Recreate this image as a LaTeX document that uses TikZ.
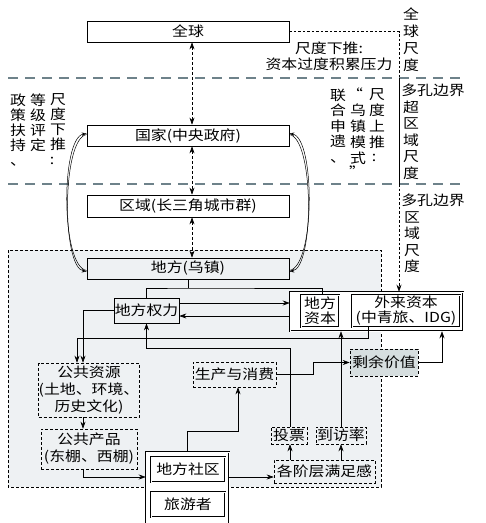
\documentclass[tikz,border=0pt]{standalone}
\usepackage{fontspec}
\newfontfamily\cjk[FakeStretch=1.15]{Noto Sans CJK SC}
\usetikzlibrary{arrows.meta,calc}
\definecolor{regfill}{RGB}{238,241,243}
\definecolor{sepgray}{RGB}{110,130,138}
\definecolor{syfill}{RGB}{214,222,223}
\tikzset{
  every node/.style={font=\cjk\fontsize{13.8}{16}\selectfont, inner sep=0pt, align=center},
  sbox/.style={draw, line width=0.7pt},
  dbox/.style={draw, line width=0.6pt, dash pattern=on 3pt off 2pt},
  dblbox/.style={draw, line width=0.5pt, double, double distance=1pt},
  arr/.style={line width=0.6pt, -{Stealth[length=7pt,width=5pt]}},
  darr/.style={line width=0.6pt, dash pattern=on 3pt off 2pt, {Stealth[length=7pt,width=5pt]}-{Stealth[length=7pt,width=5pt]}},
  dotln/.style={line width=0.6pt, dash pattern=on 2.5pt off 2pt},
  sepln/.style={line width=2.6pt, sepgray, dash pattern=on 10pt off 7pt},
  cv/.style={line width=0.5pt, -{Stealth[open,length=5pt,width=3.5pt]}},
  vt/.style={font=\cjk\fontsize{13.8}{#1}\selectfont},
  vt/.default=15
}
\begin{document}
\begin{tikzpicture}[x=1pt,y=-1pt]
\useasboundingbox (0,0) rectangle (486,523);
% local region background
\fill[regfill] (8,250) rectangle (381,487);
\draw[line width=0.5pt, dash pattern=on 3pt off 2pt] (8,250) rectangle (381,487);
% scale separators
\draw[sepln] (8,78) -- (462,78);
\draw[sepln] (8,184) -- (462,184);

% scale boxes
\node[sbox, fill=white, minimum width=202pt, minimum height=21pt] (qq) at (188,31.5) {全球};
\node[sbox, fill=white, minimum width=202pt, minimum height=21pt] (gj) at (188,135.5) {国家(中央政府)};
\node[sbox, fill=white, minimum width=202pt, minimum height=22pt] (qy) at (188,206) {区域(长三角城市群)};
\node[sbox, minimum width=202pt, minimum height=21pt] (df) at (188,268.5) {地方(乌镇)};

% local elements
\node[sbox, minimum width=65pt, minimum height=25pt] (qlz) at (146.5,310.5) {地方权力};
\node[dblbox, fill=white, minimum width=173pt, minimum height=39pt] (ob) at (376.5,311.5) {};
\node[dblbox, minimum width=38pt, minimum height=32pt, font=\cjk\fontsize{13.8}{15}\selectfont] (dfzb) at (320,311) {地方\\资本};
\node[dblbox, minimum width=108pt, minimum height=32pt, font=\cjk\fontsize{13.8}{15}\selectfont] (wlzb) at (406,311) {外来资本\\(中青旅、IDG)};
\node[dbox, minimum width=96pt, minimum height=54pt, font=\cjk\fontsize{13.8}{17}\selectfont] (ggzy) at (89,390) {公共资源\\(土地、环境、\\历史文化)};
\node[dbox, minimum width=96pt, minimum height=40pt, font=\cjk\fontsize{13.8}{17}\selectfont] (ggcp) at (89,449) {公共产品\\(东棚、西棚)};
\node[dbox, minimum width=83pt, minimum height=25pt] (sc) at (234.5,374.5) {生产与消费};
\node[dbox, fill=syfill, minimum width=68pt, minimum height=27pt] (syjz) at (384,362.5) {剩余价值};
\node[dbox, minimum width=36pt, minimum height=17pt] (tp) at (289,435.5) {投票};
\node[dbox, minimum width=50pt, minimum height=17pt] (dfl) at (341,435.5) {到访率};
\node[dbox, minimum width=101pt, minimum height=23pt] (mzg) at (324.5,471.5) {各阶层满足感};
\node[dblbox, fill=white, minimum width=83pt, minimum height=80pt] (oc) at (187.5,492) {};
\node[dblbox, minimum width=74pt, minimum height=25pt] (sq) at (188,469.5) {地方社区};
\node[dblbox, minimum width=74pt, minimum height=25pt] (yk) at (188,504.5) {旅游者};

% texts
\node (t1) at (329,56) [font=\cjk\fontsize{13.8}{16}\selectfont] {尺度下推:\\资本过度积累压力};
\node[vt=17] (t2) at (411,39.5) {全\\球\\尺\\度};
\node (t3) at (433,90) {多孔边界};
\node[vt=16.5] (t4) at (411,140) {超\\区\\域\\尺\\度};
\node (t5) at (433,200) {多孔边界};
\node[vt=16.5] (t6) at (412,242) {区\\域\\尺\\度};
% left vertical text
\node[vt] (l1) at (18,130) {政\\策\\扶\\持\\、};
\node[vt] (l2) at (38,122.5) {等\\级\\评\\定};
\node[vt] (l3) at (58,122.5) {尺\\度\\下\\推};
\node (l4) at (52,161) {:};
% right vertical text
\node[vt=15.5] (r1) at (338,126) {联\\合\\申\\遗\\、};
\node (r2a) at (355,94) {“};
\node[vt=16] (r2) at (358,134) {乌\\镇\\模\\式};
\node (r2b) at (357,172) {”};
\node[vt=16] (r3) at (377,119) {尺\\度\\上\\推};
\node (r4) at (374,158) {:};

% coordinates
\coordinate (tj) at (188,288);
\coordinate (c1) at (77,338);
\coordinate (c3) at (238,431);
\coordinate (c4) at (313,362.5);
\coordinate (c6) at (146.5,348);
\coordinate (y477) at (0,477);
\coordinate (v1) at (399,31.5);
\coordinate (v2) at (399,78);
\coordinate (v3) at (399,184);

% scale connectors
\draw[darr] ([xshift=4pt]qq.south) -- ([xshift=4pt]gj.north);
\draw[darr] ([xshift=4pt]gj.south) -- ([xshift=4pt]qy.north);
\draw[darr] ([xshift=4pt]qy.south) -- ([xshift=4pt]df.north);
\draw[dotln] (qq.east) -- (v1) -- (v2);
\draw[line width=0.6pt] (v2) -- (v3);
\draw[dotln, -{Stealth[length=7pt,width=5pt]}] (v3) -- (v3 |- ob.north);

% curves
\draw[cv] ([yshift=-2pt]df.west) .. controls +(-26,-4) and +(-26,4) .. ([yshift=2pt]gj.west);
\draw[cv] ([yshift=1pt]gj.west) .. controls +(-25,4) and +(-25,-4) .. ([yshift=-3pt]df.west);
\draw[cv] ([yshift=-2pt]df.east) .. controls +(26,-4) and +(26,4) .. ([yshift=2pt]gj.east);
\draw[cv] ([yshift=1pt]gj.east) .. controls +(25,4) and +(25,-4) .. ([yshift=-3pt]df.east);

% local connectors
\draw[line width=0.6pt] (df.south) -- (tj);
\draw[line width=0.6pt] (qlz.north) |- (tj) -| ([xshift=2pt]dfzb.north);
\draw[arr] ([yshift=7.5pt]qlz.east) -- ([yshift=7.5pt]qlz.east -| ob.west);
\draw[arr] ([yshift=-5.5pt]qlz.east -| ob.west) -- ([yshift=-5.5pt]qlz.east);
\draw[arr] ([xshift=-38pt]wlzb.south) |- (c1) -- (c1 |- ggzy.north);
\draw[arr] (qlz.west) -| ([xshift=-6pt]ggzy.north);
\draw[arr] ([xshift=-6pt]ggzy.south) -- ([xshift=-6pt]ggcp.north);
\draw[arr] ([xshift=-6pt]ggcp.south) |- (oc.west |- y477);
\draw[arr] (oc.north) |- (c3) -- (c3 |- sc.south);
\draw[arr] (sc.east) -| (c4) -- (syjz.west);
\draw[arr] (syjz.east) -| ([xshift=65.5pt]ob.south);
\draw[arr] (dfl.north) -- (dfl.north |- ob.south);
\draw[arr] ([xshift=1pt]tp.north) |- (c6) -- (qlz.south);
\draw[arr] ([xshift=1pt]tp.north |- mzg.north) -- ([xshift=1pt]tp.south);
\draw[arr] (dfl.south |- mzg.north) -- (dfl.south);
\draw[arr] (oc.east |- y477) -- (mzg.west |- y477);
\end{tikzpicture}
\end{document}
